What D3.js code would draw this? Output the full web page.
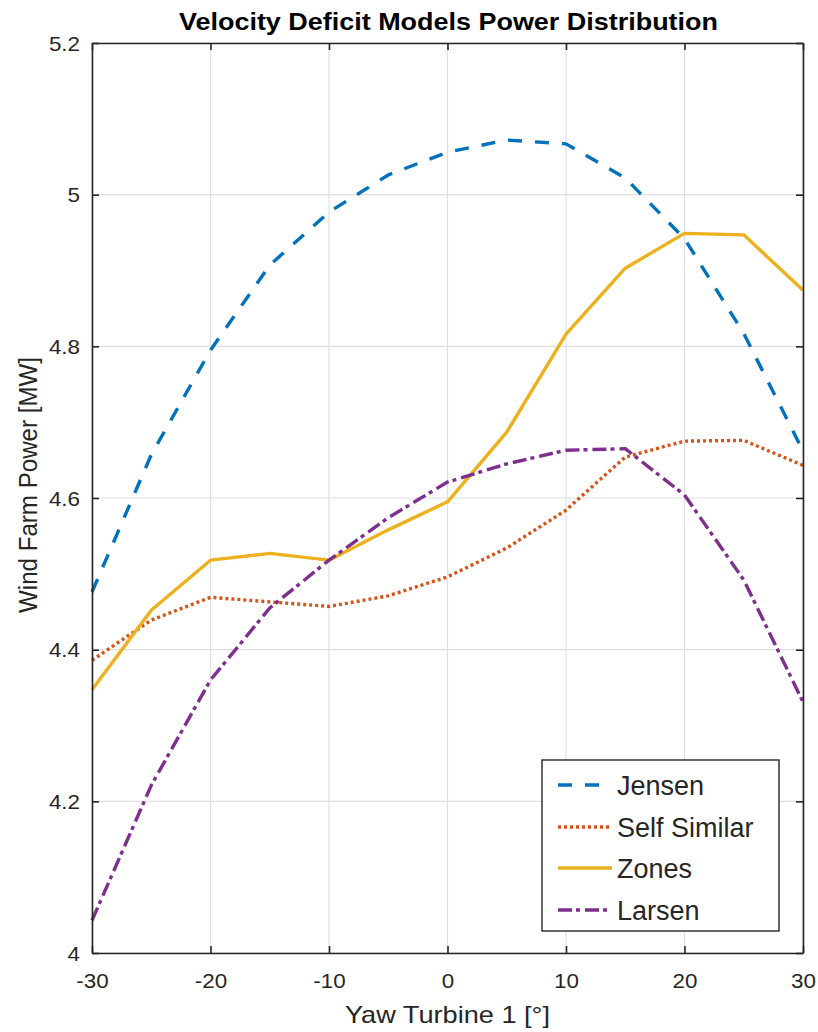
<!DOCTYPE html>
<html>
<head>
<meta charset="utf-8">
<script src="https://cdn.jsdelivr.net/npm/d3@7"></script>
<style>
  html, body { margin: 0; padding: 0; background: #fff; }
  svg { display: block; font-family: "Liberation Sans", Arial, Helvetica, sans-serif; }
</style>
</head>
<body>
<svg id="chart" width="818" height="1032"></svg>
<script>
// Yaw angle of turbine 1 (degrees)
const yaw = [-30, -25, -20, -15, -10, -5, 0, 5, 10, 15, 20, 25, 30];

// Total wind farm power (MW) for each velocity deficit model
const jensen      = [4.476, 4.657, 4.795, 4.907, 4.977, 5.026, 5.056, 5.072, 5.067, 5.022, 4.942, 4.817, 4.662];
const selfSimilar = [4.386, 4.439, 4.469, 4.463, 4.457, 4.471, 4.496, 4.534, 4.584, 4.654, 4.675, 4.676, 4.643];
const zones       = [4.347, 4.452, 4.518, 4.527, 4.518, 4.558, 4.595, 4.687, 4.816, 4.903, 4.949, 4.947, 4.874];
const larsen      = [4.043, 4.221, 4.360, 4.455, 4.518, 4.574, 4.621, 4.645, 4.663, 4.665, 4.604, 4.492, 4.331];

const seriesNames = ["Jensen", "Self Similar", "Zones", "Larsen"];
const seriesColors = ["#0072BD", "#D95319", "#EDB120", "#7E2F8E"];
const seriesDashes = ["14,13", "3,3", null, "14,4,4,5"];

const xTicks = [-30, -20, -10, 0, 10, 20, 30];
const yTicks = [4, 4.2, 4.4, 4.6, 4.8, 5, 5.2];

const titleText = "Velocity Deficit Models Power Distribution";
const xLabel = "Yaw Turbine 1 [°]";
const yLabel = "Wind Farm Power [MW]";

const series = [jensen, selfSimilar, zones, larsen].map((vals, i) => ({
  name: seriesNames[i],
  color: seriesColors[i],
  dash: seriesDashes[i],
  points: vals.map((v, j) => ({ x: yaw[j], y: v }))
}));

const svg = d3.select("#chart");
const box = { left: 92, right: 803, top: 43, bottom: 953 };

const x = d3.scaleLinear().domain([-30, 30]).range([box.left, box.right]);
const y = d3.scaleLinear().domain([4, 5.2]).range([box.bottom, box.top]);

const axisColor = "#262626";
const tickFont = 20;
const tickStretch = 1.12;

// grid
const grid = svg.append("g");
grid.selectAll("line.gx").data(xTicks).join("line")
  .attr("x1", d => x(d)).attr("x2", d => x(d))
  .attr("y1", box.top).attr("y2", box.bottom)
  .attr("stroke", "#dfdfdf").attr("stroke-width", 1.2);
grid.selectAll("line.gy").data(yTicks).join("line")
  .attr("x1", box.left).attr("x2", box.right)
  .attr("y1", d => y(d)).attr("y2", d => y(d))
  .attr("stroke", "#dfdfdf").attr("stroke-width", 1.2);

// clip region for the data lines
svg.append("clipPath").attr("id", "plotClip")
  .append("rect")
  .attr("x", box.left - 2).attr("y", box.top)
  .attr("width", box.right - box.left + 4).attr("height", box.bottom - box.top);

const line = d3.line().x(d => x(d.x)).y(d => y(d.y));

svg.append("g").attr("clip-path", "url(#plotClip)")
  .selectAll("path").data(series).join("path")
  .attr("d", d => line(d.points))
  .attr("fill", "none")
  .attr("stroke", d => d.color)
  .attr("stroke-width", 3.4)
  .attr("stroke-dasharray", d => d.dash)
  .attr("stroke-linejoin", "round");

// axes (box with inward ticks)
const tickLen = 7;
const fmtX = d => String(d);
const fmtY = d => String(+d.toFixed(1));

const bottomAxis = d3.axisBottom(x).tickValues(xTicks).tickSizeInner(-tickLen).tickSizeOuter(0).tickFormat(fmtX);
const topAxis = d3.axisTop(x).tickValues(xTicks).tickSizeInner(-tickLen).tickSizeOuter(0).tickFormat("");
const leftAxis = d3.axisLeft(y).tickValues(yTicks).tickSizeInner(-tickLen).tickSizeOuter(0).tickFormat(fmtY);
const rightAxis = d3.axisRight(y).tickValues(yTicks).tickSizeInner(-tickLen).tickSizeOuter(0).tickFormat("");

function styleAxis(g) {
  g.select(".domain").attr("stroke", axisColor).attr("stroke-width", 1.6);
  g.selectAll(".tick line").attr("stroke", axisColor).attr("stroke-width", 1.6);
  g.selectAll(".tick text").attr("fill", axisColor).attr("font-size", tickFont)
    .attr("font-family", "'Liberation Sans', Arial, sans-serif");
}

const gBottom = svg.append("g").attr("transform", `translate(0,${box.bottom})`).call(bottomAxis).call(styleAxis);
svg.append("g").attr("transform", `translate(0,${box.top})`).call(topAxis).call(styleAxis);
const gLeft = svg.append("g").attr("transform", `translate(${box.left},0)`).call(leftAxis).call(styleAxis);
svg.append("g").attr("transform", `translate(${box.right},0)`).call(rightAxis).call(styleAxis);

// place tick labels: slightly widened glyphs, anchored at the tick
gBottom.selectAll(".tick text")
  .attr("x", null).attr("y", null).attr("dy", null)
  .attr("transform", `translate(0,35) scale(${tickStretch},1)`);
gLeft.selectAll(".tick text")
  .attr("x", null).attr("dy", "0.35em")
  .attr("transform", `translate(-12,0) scale(${tickStretch},1)`);

// title
svg.append("text")
  .attr("x", (box.left + box.right) / 2 + 1).attr("y", 30)
  .attr("text-anchor", "middle")
  .attr("font-size", 23).attr("font-weight", "bold").attr("fill", "#000")
  .attr("textLength", 539).attr("lengthAdjust", "spacingAndGlyphs")
  .text(titleText);

// axis labels
svg.append("text")
  .attr("x", (box.left + box.right) / 2).attr("y", 1023)
  .attr("text-anchor", "middle")
  .attr("font-size", 24).attr("fill", axisColor)
  .attr("textLength", 205).attr("lengthAdjust", "spacingAndGlyphs")
  .text(xLabel);

svg.append("text")
  .attr("transform", "translate(37,485) rotate(-90)")
  .attr("text-anchor", "middle")
  .attr("font-size", 26).attr("fill", axisColor)
  .attr("textLength", 256).attr("lengthAdjust", "spacingAndGlyphs")
  .text(yLabel);

// legend
const legend = svg.append("g");
legend.append("rect")
  .attr("x", 542).attr("y", 760).attr("width", 237).attr("height", 171)
  .attr("fill", "#fff").attr("stroke", axisColor).attr("stroke-width", 1.4);

const rowY = [785, 827, 868, 910];
const items = legend.selectAll("g.item").data(series).join("g")
  .attr("transform", (d, i) => `translate(0,${rowY[i]})`);
items.append("line")
  .attr("x1", 558).attr("x2", 612).attr("y1", 0).attr("y2", 0)
  .attr("stroke", d => d.color).attr("stroke-width", 3.4)
  .attr("stroke-dasharray", d => d.dash);
items.append("text")
  .attr("x", 617).attr("y", 10)
  .attr("font-size", 27).attr("fill", axisColor)
  .text(d => d.name);
</script>
</body>
</html>
